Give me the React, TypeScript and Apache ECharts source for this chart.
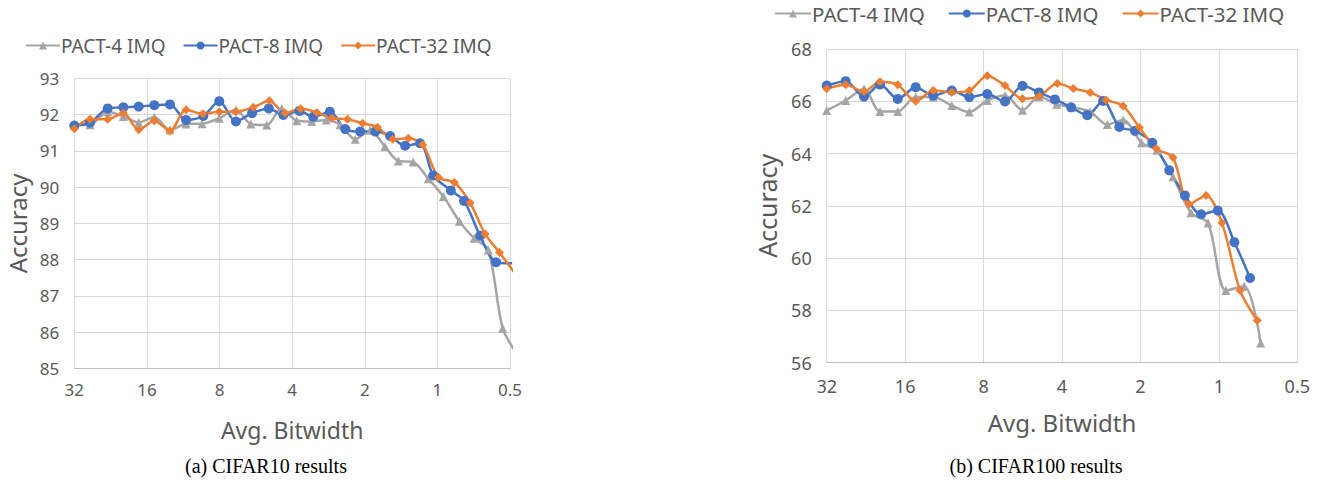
import React, { useEffect, useRef } from "react";
import * as echarts from "echarts";

// ---- CIFAR10 (left) ----
const c10Bits4 = [32, 27.55, 23.26, 20.04, 17.31, 14.91, 12.84, 11.01, 9.45, 8.02, 6.84, 5.94, 5.10, 4.42, 3.83, 3.32, 2.89, 2.53, 2.19, 1.90, 1.65, 1.45, 1.26, 1.09, 0.944, 0.811, 0.704, 0.615, 0.536, 0.467];
const c10Acc4 = [91.71, 91.72, 92.08, 91.95, 91.78, 91.93, 91.58, 91.74, 91.75, 91.90, 92.13, 91.74, 91.71, 92.17, 91.83, 91.81, 91.85, 91.72, 91.32, 91.57, 91.12, 90.72, 90.69, 90.23, 89.74, 89.06, 88.59, 88.27, 86.11, 85.40];
const c10Bits8 = [32, 27.55, 23.26, 20.04, 17.31, 14.91, 12.84, 11.01, 9.34, 8.02, 6.84, 5.86, 5.00, 4.35, 3.73, 3.27, 2.79, 2.41, 2.09, 1.81, 1.57, 1.36, 1.18, 1.04, 0.88, 0.775, 0.665, 0.571, 0.49];
const c10Acc8 = [91.70, 91.78, 92.17, 92.20, 92.22, 92.26, 92.28, 91.85, 91.96, 92.37, 91.81, 92.04, 92.17, 91.99, 92.10, 91.94, 92.08, 91.60, 91.53, 91.53, 91.41, 91.14, 91.21, 90.32, 89.91, 89.62, 88.66, 87.93, 87.90];
const c10Bits32 = [32, 27.55, 23.26, 20.04, 17.31, 14.91, 12.84, 11.01, 9.39, 8.02, 6.84, 5.79, 4.97, 4.28, 3.69, 3.16, 2.74, 2.36, 2.04, 1.77, 1.53, 1.32, 1.15, 0.99, 0.85, 0.732, 0.634, 0.553, 0.48];
const c10Acc32 = [91.61, 91.87, 91.87, 92.04, 91.58, 91.83, 91.55, 92.13, 92.02, 92.08, 92.08, 92.20, 92.38, 92.04, 92.16, 92.06, 91.90, 91.87, 91.76, 91.65, 91.32, 91.35, 91.17, 90.27, 90.13, 89.57, 88.71, 88.20, 87.65];

// ---- CIFAR100 (right) ----
const c100Bits4 = [32, 27.06, 23.01, 19.98, 17.08, 14.57, 12.48, 10.60, 9.08, 7.74, 6.62, 5.67, 4.90, 4.19, 3.67, 3.12, 2.68, 2.33, 1.98, 1.73, 1.50, 1.28, 1.10, 0.94, 0.80, 0.691];
const c100Acc4 = [65.65, 66.03, 66.48, 65.61, 65.61, 66.16, 66.16, 65.84, 65.59, 66.03, 66.22, 65.66, 66.17, 65.89, 65.77, 65.60, 65.11, 65.28, 64.41, 64.13, 63.11, 61.74, 61.34, 58.76, 58.92, 56.75];
const c100Bits8 = [32, 27.06, 23.01, 19.98, 17.08, 14.57, 12.48, 10.60, 9.08, 7.74, 6.62, 5.67, 4.90, 4.26, 3.69, 3.20, 2.78, 2.41, 2.10, 1.80, 1.55, 1.35, 1.17, 1.01, 0.872, 0.759];
const c100Acc8 = [66.60, 66.77, 66.18, 66.64, 66.09, 66.54, 66.22, 66.41, 66.16, 66.28, 65.99, 66.59, 66.34, 66.07, 65.77, 65.47, 66.01, 65.02, 64.87, 64.41, 63.36, 62.40, 61.68, 61.82, 60.61, 59.24];
const c100Bits32 = [32, 27.06, 23.01, 19.98, 17.08, 14.57, 12.48, 10.60, 9.08, 7.74, 6.62, 5.67, 4.88, 4.17, 3.62, 3.12, 2.71, 2.33, 2.02, 1.74, 1.50, 1.30, 1.12, 0.973, 0.829, 0.712];
const c100Acc32 = [66.48, 66.63, 66.37, 66.75, 66.63, 66.00, 66.41, 66.35, 66.41, 66.98, 66.60, 66.10, 66.20, 66.68, 66.49, 66.34, 66.05, 65.82, 65.00, 64.19, 63.85, 62.06, 62.40, 61.35, 58.76, 57.61];

const seriesNames = ["PACT-4 IMQ", "PACT-8 IMQ", "PACT-32 IMQ"];
const seriesColors = ["#A5A5A5", "#4472C4", "#ED7D31"];
const seriesSymbols = ["triangle", "circle", "diamond"];
const symbolSizes = [9, 10, 9];
const captions = ["(a) CIFAR10 results", "(b) CIFAR100 results"];

const FONT = "Noto Sans";
const TXT = "#595959";

const zip = (xs: number[], ys: number[]) => xs.map((x, i) => [x, ys[i]]);

export default function App() {
  const ref = useRef<HTMLDivElement>(null);
  useEffect(() => {
    if (!ref.current) return;
    const chart = echarts.init(ref.current, undefined, { renderer: "svg" });
    const leftData = [zip(c10Bits4, c10Acc4), zip(c10Bits8, c10Acc8), zip(c10Bits32, c10Acc32)];
    const rightData = [zip(c100Bits4, c100Acc4), zip(c100Bits8, c100Acc8), zip(c100Bits32, c100Acc32)];

    const mkX = (gridIndex: number, fs: number, gap: number, margin: number) => ({
      type: "log",
      logBase: 2,
      gridIndex,
      min: 0.5,
      max: 32,
      inverse: true,
      name: "Avg. Bitwidth",
      nameLocation: "middle",
      nameGap: gap,
      nameTextStyle: { fontFamily: FONT, fontSize: fs + 6, color: TXT },
      axisLine: { show: true, lineStyle: { color: "#BFBFBF", width: 1 } },
      axisTick: { show: false },
      axisLabel: { fontFamily: FONT, fontSize: fs, color: TXT, margin },
      splitLine: { show: true, lineStyle: { color: "#D9D9D9", width: 1 } },
    });
    const mkY = (gridIndex: number, min: number, max: number, interval: number, fs: number, gap: number) => ({
      type: "value",
      gridIndex,
      min,
      max,
      interval,
      name: "Accuracy",
      nameLocation: "middle",
      nameGap: gap,
      nameTextStyle: { fontFamily: FONT, fontSize: fs + 7, color: TXT },
      axisLine: { show: false },
      axisTick: { show: false },
      axisLabel: { fontFamily: FONT, fontSize: fs, color: TXT, margin: 15 },
      splitLine: { show: true, lineStyle: { color: "#D9D9D9", width: 1 } },
    });

    const mkSeries = (data: number[][][], idx: number) =>
      data.map((d, i) => ({
        type: "line",
        name: seriesNames[i],
        xAxisIndex: idx,
        yAxisIndex: idx,
        data: d,
        smooth: 0.3,
        symbol: seriesSymbols[i],
        symbolSize: symbolSizes[i],
        showAllSymbol: true,
        clip: true,
        lineStyle: { color: seriesColors[i], width: 2.5 },
        itemStyle: { color: seriesColors[i] },
        emphasis: { disabled: true },
      }));

    chart.setOption({
      animation: false,
      backgroundColor: "#ffffff",
      color: seriesColors,
      legend: [
        {
          left: 25,
          top: 36,
          padding: 0,
          itemWidth: 34,
          itemHeight: 10,
          itemGap: 17,
          textStyle: { fontFamily: FONT, fontSize: 19, color: TXT, padding: [0, 0, 0, -4] },
          data: seriesNames,
        },
        {
          left: 774,
          top: 3,
          padding: 0,
          itemWidth: 36,
          itemHeight: 10,
          itemGap: 23,
          textStyle: { fontFamily: FONT, fontSize: 20.5, color: TXT, padding: [0, 0, 0, -4] },
          data: seriesNames,
        },
      ],
      grid: [
        { left: 74.3, top: 78.3, width: 435.7, height: 290.2, containLabel: false },
        { left: 826.7, top: 49, width: 470.6, height: 313.7, containLabel: false },
      ],
      xAxis: [mkX(0, 17, 50, 12), mkX(1, 18, 48, 14)],
      yAxis: [mkY(0, 85, 93, 1, 17, 45), mkY(1, 56, 68, 2, 18, 47)],
      series: [...mkSeries(leftData, 0), ...mkSeries(rightData, 1)],
      graphic: [
        {
          type: "text",
          x: 266,
          y: 466,
          style: { text: captions[0], fontFamily: "Liberation Serif", fontSize: 20, fill: "#000", align: "center", verticalAlign: "middle" },
        },
        {
          type: "text",
          x: 1036,
          y: 466,
          style: { text: captions[1], fontFamily: "Liberation Serif", fontSize: 20, fill: "#000", align: "center", verticalAlign: "middle" },
        },
      ],
    });
    return () => chart.dispose();
  }, []);
  return <div ref={ref} style={{ position: "fixed", left: 0, top: 0, width: 1325, height: 482 }} />;
}
